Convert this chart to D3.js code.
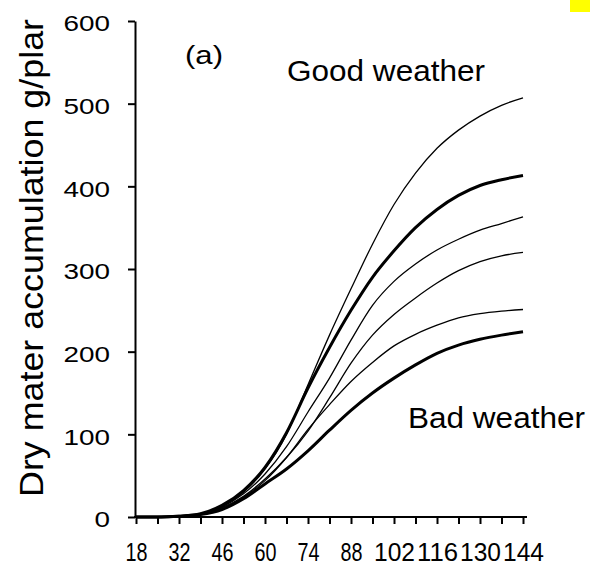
<!DOCTYPE html>
<html>
<head>
<meta charset="utf-8">
<script src="https://cdn.jsdelivr.net/npm/d3@7"></script>
<style>
  body { margin: 0; background: #fff; }
  svg { display: block; }
</style>
</head>
<body>
<div id="chart"></div>
<script>
// Days after sowing, one reading every 7 days
var days = [18, 25, 32, 39, 46, 53, 60, 67, 74, 81, 88, 95, 102, 109, 116, 123, 130, 137, 144];

// Dry matter (g/plant) for each simulated season, good weather at the top
var curve1 = [0, 0, 1, 4, 13, 30, 58, 100, 160, 220, 276, 330, 378, 416, 446, 468, 485, 498, 507];
var curve2 = [0, 0, 1, 4, 14, 32, 60, 102, 156, 205, 250, 290, 322, 350, 372, 389, 401, 408, 413];
var curve3 = [0, 0, 1, 4, 12, 28, 52, 85, 127, 168, 214, 256, 285, 306, 323, 336, 347, 355, 363];
var curve4 = [0, 0, 1, 3, 11, 25, 46, 72, 104, 144, 186, 220, 245, 265, 283, 298, 309, 316, 320];
var curve5 = [0, 0, 1, 3, 10, 24, 44, 72, 106, 136, 164, 187, 207, 221, 232, 241, 246, 249, 251];
var curve6 = [0, 0, 1, 3, 9, 22, 40, 58, 80, 105, 129, 150, 168, 184, 198, 208, 215, 220, 224];

// Axis ticks and labels
var xTicks = [18, 25, 32, 39, 46, 53, 60, 67, 74, 81, 88, 95, 102, 109, 116, 123, 130, 137, 144];
var xTickLabels = [18, 32, 46, 60, 74, 88, 102, 116, 130, 144];
var yTicks = [0, 100, 200, 300, 400, 500, 600];

var width = 590;
var height = 567;

var svg = d3.select("#chart").append("svg")
  .attr("width", width)
  .attr("height", height);

// Small yellow marker in the top right corner
svg.append("rect")
  .attr("x", 570).attr("y", 0)
  .attr("width", 20).attr("height", 12)
  .attr("fill", "#ffff00");

// Scales
var x = d3.scaleLinear().domain([18, 144]).range([136, 523]);
var y = d3.scaleLinear().domain([0, 600]).range([517, 21]);

// Y axis
var yAxis = svg.append("g")
  .attr("transform", "translate(135,0)")
  .call(d3.axisLeft(y).tickValues(yTicks).tickSize(7).tickSizeOuter(0).tickPadding(18));

yAxis.select(".domain").attr("stroke", "#000").attr("stroke-width", 2);
yAxis.selectAll(".tick line").attr("stroke", "#000").attr("stroke-width", 2);
yAxis.selectAll(".tick text")
  .attr("dy", "0.45em")
  .style("font-family", "'Liberation Sans', Arial, sans-serif")
  .style("font-size", "22px")
  .attr("fill", "#000")
  .attr("lengthAdjust", "spacingAndGlyphs")
  .attr("textLength", function (d) { return String(d).length * 15.5; });

// X axis
var xAxis = svg.append("g")
  .attr("transform", "translate(0,517)")
  .call(d3.axisBottom(x).tickValues(xTicks).tickSize(7).tickSizeOuter(0).tickPadding(19)
    .tickFormat(function (d) { return xTickLabels.indexOf(d) >= 0 ? d : ""; }));

xAxis.select(".domain").remove();
xAxis.append("line")
  .attr("x1", 134).attr("x2", 527)
  .attr("stroke", "#000").attr("stroke-width", 2);
xAxis.selectAll(".tick line").attr("stroke", "#000").attr("stroke-width", 2);
xAxis.selectAll(".tick text")
  .style("font-family", "'Liberation Sans', Arial, sans-serif")
  .style("font-size", "25px")
  .attr("fill", "#000")
  .attr("lengthAdjust", "spacingAndGlyphs")
  .attr("textLength", function (d) {
    var s = String(d);
    return s.length > 2 ? 41 : 22;
  });

// Axis title
svg.append("text")
  .attr("transform", "translate(43,258) rotate(-90)")
  .attr("text-anchor", "middle")
  .attr("textLength", 478)
  .attr("lengthAdjust", "spacingAndGlyphs")
  .style("font-family", "'Liberation Sans', Arial, sans-serif")
  .style("font-size", "34px")
  .text("Dry mater accumulation g/plar");

// Growth curves
var series = [curve1, curve2, curve3, curve4, curve5, curve6];
var lineWidths = [1.3, 3, 1.3, 1.3, 1.3, 3];

var line = d3.line()
  .x(function (d, i) { return x(days[i]); })
  .y(function (d) { return y(d); })
  .curve(d3.curveMonotoneX);

svg.selectAll("path.curve")
  .data(series)
  .enter()
  .append("path")
  .attr("class", "curve")
  .attr("d", line)
  .attr("fill", "none")
  .attr("stroke", "#000")
  .attr("stroke-width", function (d, i) { return lineWidths[i]; });

// Annotations
svg.append("text")
  .attr("x", 185).attr("y", 64)
  .attr("textLength", 38)
  .attr("lengthAdjust", "spacingAndGlyphs")
  .style("font-family", "'Liberation Sans', Arial, sans-serif")
  .style("font-size", "26px")
  .text("(a)");

svg.append("text")
  .attr("x", 287).attr("y", 81)
  .attr("textLength", 198)
  .attr("lengthAdjust", "spacingAndGlyphs")
  .style("font-family", "'Liberation Sans', Arial, sans-serif")
  .style("font-size", "29px")
  .text("Good weather");

svg.append("text")
  .attr("x", 408).attr("y", 428)
  .attr("textLength", 177)
  .attr("lengthAdjust", "spacingAndGlyphs")
  .style("font-family", "'Liberation Sans', Arial, sans-serif")
  .style("font-size", "29px")
  .text("Bad weather");
</script>
</body>
</html>
